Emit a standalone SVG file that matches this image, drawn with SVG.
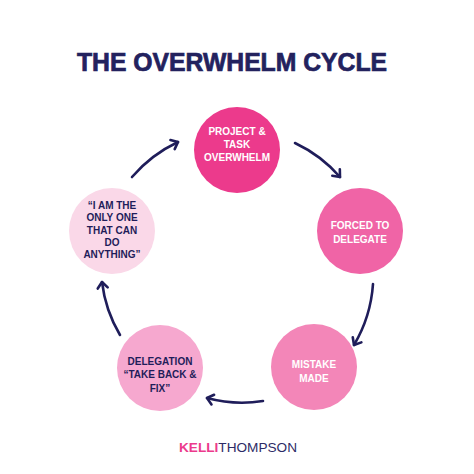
<svg xmlns="http://www.w3.org/2000/svg" width="474" height="474" viewBox="0 0 474 474">
<style>
.t{font-family:"Liberation Sans",Arial,sans-serif;font-weight:bold;font-size:10px;text-anchor:middle;dominant-baseline:central}
.w{fill:#ffffff}
.n{fill:#1f1d5a}
.c{stroke:#1f1d5a;stroke-width:2.6;fill:none;stroke-linecap:round}
</style>
<defs>
<marker id="ah" markerUnits="userSpaceOnUse" markerWidth="14" markerHeight="14" viewBox="-8 -7 10 14" refX="0" refY="0" orient="auto" overflow="visible">
<path d="M -6 -5 L 0 0 L -6 5" fill="none" stroke="#1f1d5a" stroke-width="2.6" stroke-linecap="round" stroke-linejoin="round"/>
</marker>
</defs>
<rect width="474" height="474" fill="#ffffff"/>
<text x="232" y="71" font-family="'Liberation Sans',Arial,sans-serif" font-weight="bold" font-size="25" fill="#23225e" stroke="#23225e" stroke-width="0.7" text-anchor="middle" textLength="310" lengthAdjust="spacingAndGlyphs">THE OVERWHELM CYCLE</text>
<g id="connectors">
<path class="c" d="M 132 177 A 138 138 0 0 1 178 142" marker-end="url(#ah)"/>
<path class="c" d="M 295 143 A 138 138 0 0 1 340 177" marker-end="url(#ah)"/>
<path class="c" d="M 373 284 A 138 138 0 0 1 354 345" marker-end="url(#ah)"/>
<path class="c" d="M 263 401 A 134 134 0 0 1 207 398" marker-end="url(#ah)"/>
<path class="c" d="M 120 335 A 135 135 0 0 1 102 282" marker-end="url(#ah)"/>
</g>
<g id="node1">
<circle cx="237" cy="150" r="43" fill="#ec3a8c"/>
<text class="t w" x="237" y="131">PROJECT &amp;</text>
<text class="t w" x="237" y="144">TASK</text>
<text class="t w" x="237" y="157">OVERWHELM</text>
</g>
<g id="node2">
<circle cx="360" cy="231" r="43" fill="#f064a6"/>
<text class="t w" x="360" y="225">FORCED TO</text>
<text class="t w" x="360" y="239">DELEGATE</text>
</g>
<g id="node3">
<circle cx="314" cy="367" r="43" fill="#f386b8"/>
<text class="t w" x="314" y="364">MISTAKE</text>
<text class="t w" x="314" y="378">MADE</text>
</g>
<g id="node4">
<circle cx="160" cy="368" r="43" fill="#f6a8cf"/>
<text class="t n" x="160" y="361">DELEGATION</text>
<text class="t n" x="160" y="374">“TAKE BACK &amp;</text>
<text class="t n" x="160" y="388">FIX”</text>
</g>
<g id="node5">
<circle cx="112" cy="231" r="43" fill="#fad8e8"/>
<text class="t n" x="112" y="205">“I AM THE</text>
<text class="t n" x="112" y="217">ONLY ONE</text>
<text class="t n" x="112" y="230">THAT CAN</text>
<text class="t n" x="112" y="242">DO</text>
<text class="t n" x="112" y="254">ANYTHING”</text>
</g>
<g id="logo">
<text x="238" y="451.5" font-family="'Liberation Sans',Arial,sans-serif" font-size="13" text-anchor="middle" textLength="118" lengthAdjust="spacingAndGlyphs"><tspan fill="#ec3a8c" font-weight="bold">KELLI</tspan><tspan fill="#2d2b66">THOMPSON</tspan></text>
</g>
</svg>
